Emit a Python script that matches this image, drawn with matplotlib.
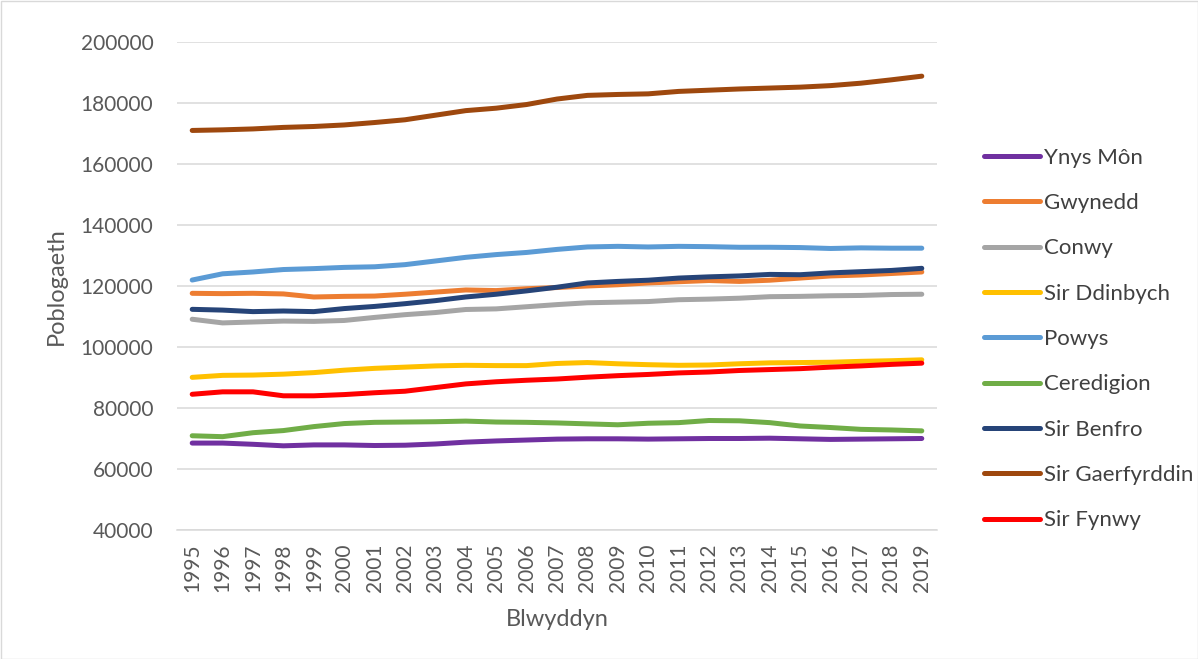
import matplotlib
matplotlib.use("Agg")
import matplotlib.pyplot as plt
from matplotlib.patches import Rectangle

plt.rcParams["font.family"] = ["Lato", "DejaVu Sans"]

years = [str(y) for y in range(1995, 2020)]

ynys_mon = [68500, 68500, 68100, 67600, 67900, 67900, 67700, 67800, 68200, 68800,
            69200, 69500, 69800, 69900, 69900, 69800, 69900, 70000, 70000, 70100,
            69900, 69700, 69800, 69900, 70000]
gwynedd = [117600, 117500, 117600, 117400, 116400, 116600, 116700, 117300, 118000, 118700,
           118500, 119100, 119500, 120000, 120400, 121000, 121400, 121800, 121500, 121900,
           122600, 123300, 123600, 124100, 124600]
conwy = [109100, 107900, 108200, 108500, 108400, 108700, 109700, 110600, 111300, 112300,
         112500, 113200, 113900, 114500, 114700, 114900, 115500, 115700, 116000, 116500,
         116600, 116800, 116900, 117200, 117300]
sir_ddinbych = [90050, 90700, 90800, 91100, 91600, 92400, 93000, 93400, 93800, 94000,
                93900, 93900, 94600, 94900, 94500, 94200, 94000, 94100, 94500, 94800,
                94900, 95000, 95300, 95500, 95800]
powys = [121960, 124000, 124600, 125400, 125700, 126100, 126300, 127000, 128200, 129400,
         130300, 131000, 132000, 132800, 133000, 132800, 133000, 132900, 132700, 132700,
         132600, 132300, 132500, 132400, 132400]
ceredigion = [70900, 70600, 71900, 72600, 73900, 74900, 75300, 75400, 75500, 75700,
              75400, 75300, 75100, 74800, 74500, 75000, 75200, 75900, 75800, 75200,
              74100, 73600, 73000, 72800, 72500]
sir_benfro = [112350, 112100, 111600, 111800, 111600, 112600, 113300, 114200, 115200, 116400,
              117300, 118400, 119600, 121000, 121500, 121900, 122600, 123000, 123300, 123800,
              123700, 124300, 124700, 125100, 125800]
sir_gaerfyrddin = [171000, 171200, 171500, 172000, 172300, 172800, 173600, 174500, 176000, 177500,
                   178300, 179500, 181300, 182500, 182800, 183000, 183800, 184200, 184600, 184900,
                   185200, 185700, 186500, 187600, 188800]
sir_fynwy = [84500, 85300, 85300, 84000, 84000, 84400, 85000, 85500, 86700, 87900,
             88600, 89100, 89500, 90100, 90600, 91000, 91500, 91800, 92300, 92600,
             92900, 93400, 93800, 94300, 94700]

series_names = ["Ynys Môn", "Gwynedd", "Conwy", "Sir Ddinbych", "Powys",
                "Ceredigion", "Sir Benfro", "Sir Gaerfyrddin", "Sir Fynwy"]
series_values = [ynys_mon, gwynedd, conwy, sir_ddinbych, powys,
                 ceredigion, sir_benfro, sir_gaerfyrddin, sir_fynwy]
colors = ["#7030A0", "#ED7D31", "#A5A5A5", "#FFC000", "#5B9BD5",
          "#70AD47", "#264478", "#9E480E", "#FF0000"]

W, H = 1198, 659
fig = plt.figure(figsize=(W / 100, H / 100), dpi=100)
ax = fig.add_axes([177 / W, 1 - 530 / H, (937 - 177) / W, (530 - 42) / H])

x = list(range(len(years)))
for name, vals, c in zip(series_names, series_values, colors):
    ax.plot(x, vals, color=c, linewidth=3.6, solid_capstyle="round",
            solid_joinstyle="round", label=name)

ax.set_xlim(-0.5, len(years) - 0.5)
ax.set_ylim(40000, 200000)
ax.set_yticks(range(40000, 200001, 20000))
ax.set_xticks(x)
ax.set_xticklabels(years, rotation=90)
ax.grid(axis="y", color="#D9D9D9", linewidth=1.1)
ax.set_axisbelow(True)
for s in ["top", "right", "left"]:
    ax.spines[s].set_visible(False)
ax.spines["bottom"].set_color("#D9D9D9")
ax.spines["bottom"].set_linewidth(1.1)
ax.tick_params(length=0, labelsize=15, colors="#595959")
ax.tick_params(axis="y", pad=17)
ax.tick_params(axis="x", pad=10)
ax.set_ylabel("Poblogaeth", fontsize=17, color="#595959", labelpad=10)
ax.set_xlabel("Blwyddyn", fontsize=17, color="#595959", labelpad=12)

fig.legend(loc="center left", bbox_to_anchor=(964 / W, 1 - 339 / H), frameon=False,
           fontsize=16, labelcolor="#404040", handlelength=2.5, handletextpad=0.22,
           labelspacing=1.14)

fig.patches.append(Rectangle((0.5 / W, 0.5 / H), 1 - 1 / W, 1 - 1 / H, transform=fig.transFigure,
                             fill=False, edgecolor="#D9D9D9", linewidth=1))

fig.savefig("out.png", dpi=100)
